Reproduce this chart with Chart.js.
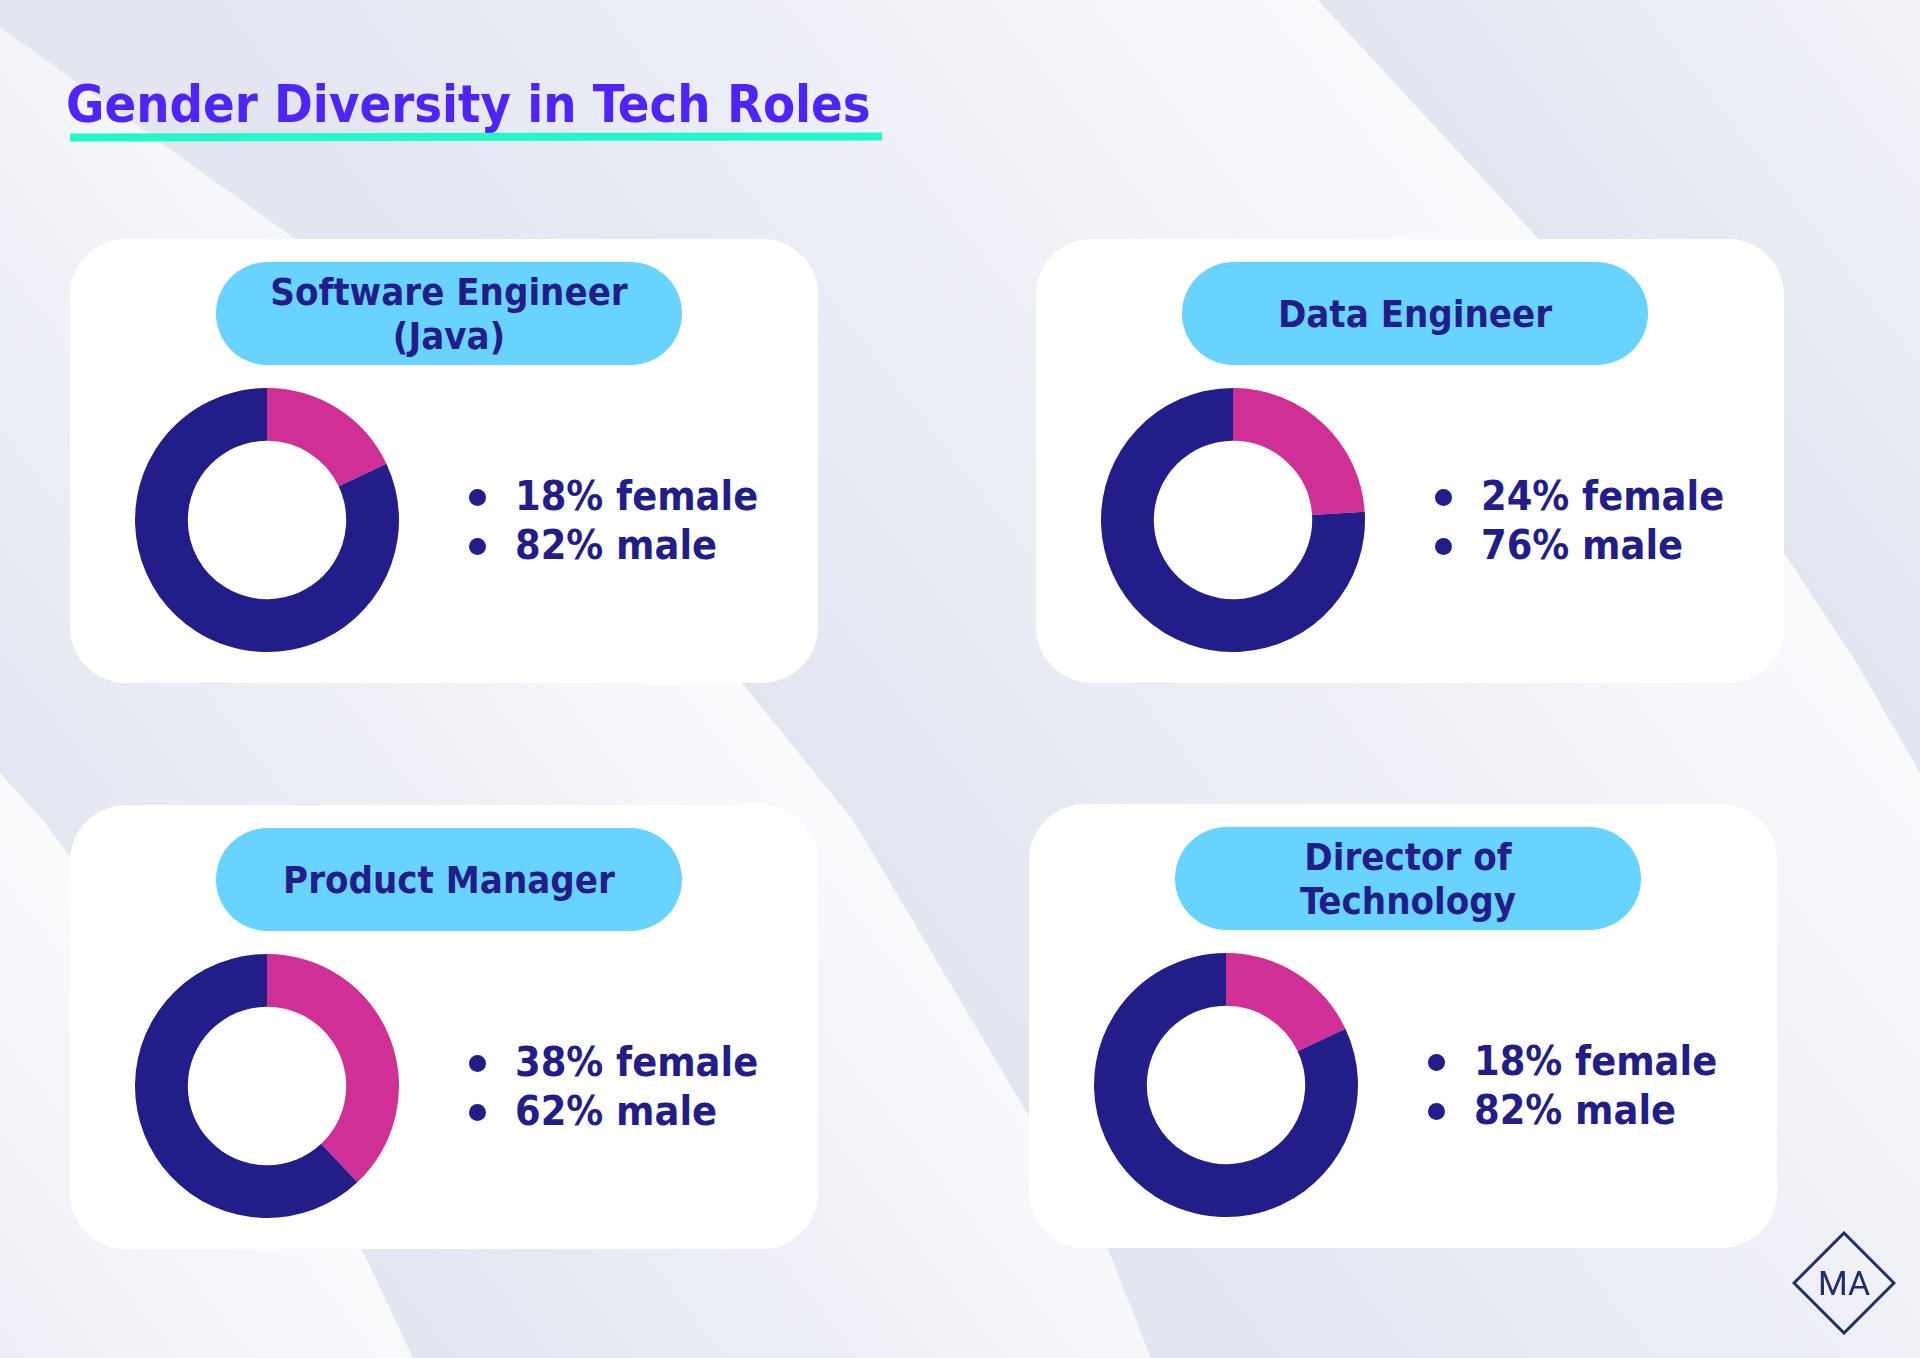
<!DOCTYPE html>
<html>
<head>
<meta charset="utf-8">
<title>Gender Diversity in Tech Roles</title>
<script src="https://cdn.jsdelivr.net/npm/chart.js@4.4.1/dist/chart.umd.min.js"></script>
<style>
  html, body { margin: 0; padding: 0; }
  body { width: 1920px; height: 1358px; overflow: hidden; background: #eceef6; }
  #page { position: relative; width: 1920px; height: 1358px; overflow: hidden;
    font-family: "DejaVu Sans Condensed", "DejaVu Sans", sans-serif; font-stretch: condensed; font-weight: bold; }
  #bg { position: absolute; left: 0; top: 0; }
  #title { position: absolute; left: 66px; top: 78px; margin: 0; font-size: 52px; line-height: 52px;
    color: #4f24f9; font-weight: bold; white-space: nowrap; }
  #underline { position: absolute; left: 70px; top: 133px; width: 812px; height: 8px; background: #22f8c8;
    transform: rotate(-0.08deg); }
  .card { position: absolute; width: 748px; height: 444px; background: #ffffff; border-radius: 56px; }
  .pill { position: absolute; left: 146px; top: 23px; width: 466px; height: 103px; border-radius: 52px;
    background: #68d3fe; color: #231d89; display: flex; align-items: center; justify-content: center;
    text-align: center; font-size: 38px; line-height: 44px; }
  .donut { position: absolute; left: 65px; top: 149px; width: 264px; height: 264px; }
  .stats { position: absolute; left: 445px; top: 233px; margin: 0; padding: 0; list-style: none;
    color: #231d89; font-size: 41px; line-height: 49px; white-space: nowrap; }
  .stats li { position: relative; }
  .stats li::before { content: ""; position: absolute; left: -46px; top: 17px; width: 17px; height: 17px;
    border-radius: 50%; background: #231d89; }
  #logo { position: absolute; left: 1792px; top: 1231px; }
</style>
</head>
<body>
<div id="page">
  <canvas id="bg" width="1920" height="1358"></canvas>
  <h1 id="title">Gender Diversity in Tech Roles</h1>
  <div id="underline"></div>
  <div id="cards"></div>
  <svg id="logo" width="104" height="104" viewBox="0 0 104 104">
    <polygon points="52,2 102,52 52,102 2,52" fill="none" stroke="#1e2d6b" stroke-width="3"/>
    <text x="52" y="64" text-anchor="middle" font-family="Roboto, 'Liberation Sans', sans-serif"
      font-size="34" font-weight="400" font-stretch="normal" fill="#1e2d6b">MA</text>
  </svg>
</div>
<script>
// role names, one entry per card (array = lines in the pill)
const roles = [
  ["Software Engineer", "(Java)"],
  ["Data Engineer"],
  ["Product Manager"],
  ["Director of", "Technology"],
];
const femalePct = [18, 24, 38, 18];
const malePct = [82, 76, 62, 82];
const genderLabels = ["female", "male"];

const cardPos = [
  [70, 239],
  [1036, 239],
  [70, 805],
  [1029, 804],
];
const femaleColor = "#d03096";
const maleColor = "#231d89";

// soft diagonal bands in the background
function drawBackground() {
  const c = document.getElementById("bg").getContext("2d");
  const dark = "#e3e5f1";
  const light = "#f9fafc";
  const curve1 = [[-40, 730], [0, 773], [43, 820], [362, 1249], [413, 1358], [425, 1400]];
  const curve2 = [[-40, -5], [0, 27], [294, 238], [743, 684], [853, 820], [1108, 1249], [1151, 1358], [1160, 1400]];
  const curveB = [[1300, -20], [1318, 0], [1538, 238], [1783, 551], [1855, 660], [1920, 773], [1960, 850]];

  function trace(pts, reverse) {
    const p = reverse ? pts.slice().reverse() : pts;
    p.forEach(function (pt) {
      c.lineTo(pt[0], pt[1]);
    });
  }
  function band(path, x0, y0, x1, y1) {
    const g = c.createLinearGradient(x0, y0, x1, y1);
    g.addColorStop(0, dark);
    g.addColorStop(1, light);
    c.fillStyle = g;
    c.beginPath();
    path();
    c.closePath();
    c.fill();
  }

  c.fillStyle = "#eceef6";
  c.fillRect(0, 0, 1920, 1358);

  // left of curve 1
  band(function () {
    c.moveTo(-40, 1400);
    trace(curve1, true);
  }, -160, 1660, 362, 1249);
  // between curve 1 and curve 2
  band(function () {
    c.moveTo(-40, -5);
    trace(curve2, false);
    trace(curve1, true);
  }, 362, 1249, 872, 851);
  // between curve 2 and curve B
  band(function () {
    trace(curve2, false);
    c.lineTo(1960, 1400);
    trace(curveB, true);
  }, 743, 684, 1454, 129);
  // right of curve B
  band(function () {
    trace(curveB, false);
    c.lineTo(1960, -20);
  }, 1783, 551, 2300, 150);
}

drawBackground();

const cardsEl = document.getElementById("cards");
for (let i = 0; i < roles.length; i++) {
  const card = document.createElement("div");
  card.className = "card";
  card.style.left = cardPos[i][0] + "px";
  card.style.top = cardPos[i][1] + "px";

  const pill = document.createElement("div");
  pill.className = "pill";
  pill.innerHTML = "<div>" + roles[i].join("<br>") + "</div>";
  card.appendChild(pill);

  const box = document.createElement("div");
  box.className = "donut";
  const canvas = document.createElement("canvas");
  box.appendChild(canvas);
  card.appendChild(box);

  const list = document.createElement("ul");
  list.className = "stats";
  list.innerHTML =
    "<li>" + femalePct[i] + "% " + genderLabels[0] + "</li>" +
    "<li>" + malePct[i] + "% " + genderLabels[1] + "</li>";
  card.appendChild(list);

  cardsEl.appendChild(card);

  new Chart(canvas, {
    type: "doughnut",
    data: {
      labels: genderLabels,
      datasets: [
        {
          data: [femalePct[i], malePct[i]],
          backgroundColor: [femaleColor, maleColor],
          borderWidth: 0,
        },
      ],
    },
    options: {
      responsive: true,
      maintainAspectRatio: false,
      animation: false,
      cutout: "60%",
      layout: { padding: 0 },
      plugins: { legend: { display: false }, tooltip: { enabled: false } },
      events: [],
    },
  });
}
</script>
</body>
</html>
